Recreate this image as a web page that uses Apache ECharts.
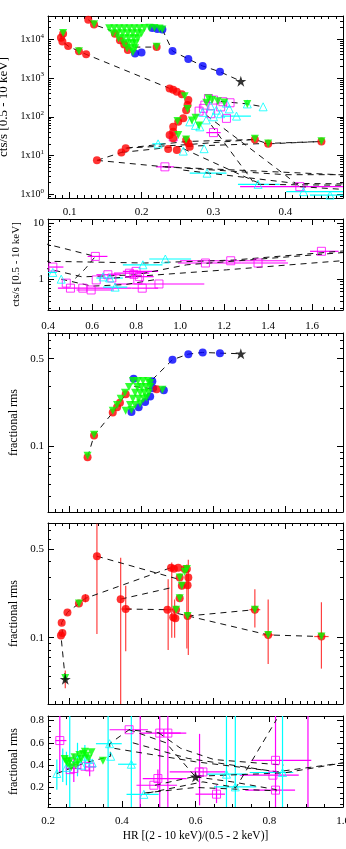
<!DOCTYPE html>
<html><head><meta charset="utf-8">
<script src="https://cdn.jsdelivr.net/npm/echarts@6/dist/echarts.min.js"></script>
<style>html,body{margin:0;padding:0;background:#fff}#c{width:346px;height:849px}</style>
</head><body><div id="c"></div>
<script>
// ---------------- tick values ----------------
const p1XTicks = [0.1, 0.2, 0.3, 0.4];
const p1YTicks = [1, 10, 100, 1000, 10000];
const p2XTicks = [0.4, 0.6, 0.8, 1.0, 1.2, 1.4, 1.6];
const p2YTicks = [1, 10];
const rmsLogTicks = [0.1, 0.5];
const p5XTicks = [0.2, 0.4, 0.6, 0.8, 1.0];
const p5YTicks = [0.2, 0.4, 0.6, 0.8];

// ---------------- panel 1 : HR vs count rate (bright) ----------------
const p1Red = [[0.126,32000],[0.134,24000],[0.091,14000],[0.088,11000],[0.090,8800],[0.098,6700],[0.113,4900],[0.123,4100],
 [0.163,14000],[0.170,9500],[0.176,7400],[0.181,5300],[0.221,6300],
 [0.239,540],[0.244,500],[0.249,440],[0.256,380],[0.265,270],[0.264,200],[0.262,148],[0.258,91],[0.251,74],[0.244,55],[0.244,41],[0.239,34],[0.244,28],[0.262,25],[0.265,20.6],[0.267,16.8],[0.249,13.9],[0.237,14.7],
 [0.3575,26],[0.376,20],[0.450,23],[0.138,7.5],[0.172,12],[0.178,15.5]];
const p1Green = [[0.134,24500],[0.091,14500],[0.113,4900],
 [0.155,19300],[0.162,19300],[0.169,19300],[0.176,19300],[0.183,19300],[0.190,19300],[0.197,19300],[0.204,19600],[0.211,19800],[0.218,19600],[0.225,19000],[0.229,17800],
 [0.160,14400],[0.167,14400],[0.174,14400],[0.181,14400],[0.188,14400],[0.195,14400],[0.200,14400],
 [0.168,10700],[0.175,10700],[0.182,10700],[0.189,10700],[0.195,10700],
 [0.175,7900],[0.182,7900],[0.188,7900],[0.192,7900],
 [0.180,5900],[0.186,5900],[0.191,5900],[0.188,4650],
 [0.221,6400],
 [0.26,340],[0.264,160],[0.25,78],[0.251,34],[0.262,26],
 [0.3575,27],[0.376,20.5],[0.45,23.5],
 [0.293,300],[0.298,270],[0.306,250],[0.315,235],[0.347,215],[0.29,230],[0.275,95],[0.27,80],[0.28,60]];
const p1Blue = [[0.229,17800],[0.243,5000],[0.265,3100],[0.285,2050],[0.309,1450],[0.191,4300],[0.2,4600],[0.215,19500],[0.222,18500]];
const p1Star = [[0.338,830]];
const p1Mag = [[0.293,297],[0.300,270],[0.313,245],[0.286,165],[0.288,200],[0.318,91],[0.300,39],[0.244,30],[0.2325,5.1],[0.42,1.57],[0.28,140],[0.31,180],[0.323,230],[0.296,120]];
const p1Cyan = [[0.369,181],[0.347,215],[0.332,104],[0.318,225],[0.267,74],[0.223,20],[0.287,15],[0.258,13],[0.291,3.5],[0.362,1.8],[0.425,1.17],[0.462,0.95],
 [0.29,83],[0.304,148],[0.281,55],[0.31,120],[0.275,60],[0.3,100],[0.285,130],[0.296,190],[0.322,160]];
// error bars: [x, y, xlo, xhi, ylo, yhi]
const p1MagErr = [[0.42,1.57,0.337,0.49,1.57,1.57],[0.2325,5.1,0.22,0.245,5.1,5.1],[0.3,39,0.29,0.31,39,39]];
const p1CyanErr = [[0.291,3.5,0.267,0.318,3.5,3.5],[0.362,1.8,0.334,0.392,1.8,1.8],[0.425,1.17,0.401,0.49,1.17,1.17],[0.462,0.95,0.434,0.49,0.95,0.95],[0.332,104,0.31,0.352,104,104],[0.223,20,0.215,0.232,20,20]];
const p1Tracks = [
 [[0.126,32000],[0.134,24000],[0.158,16600]],
 [[0.091,14000],[0.088,11000],[0.090,8800],[0.098,6700],[0.113,4900],[0.123,4100],[0.239,540]],
 [[0.229,17800],[0.243,5000],[0.265,3100],[0.285,2050],[0.309,1450],[0.338,830]],
 [[0.19,6300],[0.221,6300]],
 [[0.31,250],[0.347,215],[0.369,181]],
 [[0.138,7.5],[0.172,12],[0.178,15.5],[0.262,23],[0.3575,26],[0.376,20],[0.45,23]],
 [[0.178,15.5],[0.262,19],[0.3575,26]],
 [[0.172,12],[0.25,17],[0.45,23]],
 [[0.138,7.5],[0.2325,5.1],[0.49,3.1]],
 [[0.2325,5.1],[0.4,3.2],[0.49,3.2]],
 [[0.258,4.2],[0.415,1.9],[0.49,1.85]],
 [[0.29,110],[0.40,3.1],[0.42,1.57]],
 [[0.297,61],[0.355,2.1]],
 [[0.258,15],[0.364,1.9]],
 [[0.362,1.8],[0.49,1.7]],
 [[0.42,1.57],[0.49,1.3]]
];

// ---------------- panel 2 : faint states ----------------
const p2Mag = [[0.615,2.56],[1.642,3.16],[1.23,2.14],[1.354,1.95],[1.115,1.95],[0.422,1.65],[0.672,1.2],[0.77,1.28],[0.80,1.38],[0.816,1.11],[0.808,0.97],[0.619,0.97],[0.904,0.82],[0.502,0.69],[0.596,0.64],[0.558,0.69],[0.828,0.69],[0.483,0.85],[0.69,1.05],[0.79,1.22]];
const p2Cyan = [[0.422,1.32],[0.46,1.0],[0.831,1.81],[0.933,2.3],[0.705,0.72],[0.68,1.05],[0.65,1.1]];
const p2MagErr = [[0.615,2.56,0.58,0.67,2.56,2.56],[1.642,3.16,1.59,1.72,3.16,3.16],[1.23,2.14,1.0,1.48,2.14,2.14],[1.354,1.95,1.28,1.49,1.95,1.95],[1.115,1.95,0.99,1.28,1.95,1.95],[0.904,0.82,0.7,1.11,0.82,0.82],[0.502,0.69,0.445,0.78,0.69,0.69],[0.596,0.64,0.53,0.70,0.64,0.64],[0.828,0.69,0.78,0.9,0.69,0.69],[0.77,1.28,0.7,0.86,1.28,1.28],[0.80,1.38,0.74,0.9,1.38,1.38],[0.672,1.2,0.62,0.73,1.2,1.2],[0.816,1.11,0.75,0.88,1.11,1.11],[0.422,1.65,0.39,0.47,1.65,1.65]];
const p2CyanErr = [[0.831,1.81,0.74,0.92,1.81,1.81],[0.933,2.3,0.86,1.05,2.3,2.3],[0.705,0.72,0.65,0.76,0.72,0.72],[0.422,1.32,0.40,0.44,1.32,1.32],[0.68,1.05,0.62,0.74,1.05,1.05]];
const p2Tracks = [
 [[0.38,4.4],[0.615,2.56],[0.57,1.55],[0.52,1.0]],
 [[0.38,2.1],[0.84,1.95],[1.24,2.2],[1.74,3.2]],
 [[0.38,1.6],[0.555,1.1],[0.8,1.2],[1.03,1.81],[1.74,3.0]],
 [[0.7,1.05],[1.21,1.47],[1.74,2.15]],
 [[0.46,1.0],[0.6,0.75],[0.75,0.8],[0.9,1.0]]
];

// ---------------- panel 3 : rms (bright) ----------------
const p3Red = [[0.125,0.082],[0.134,0.122],[0.160,0.186],[0.166,0.205],[0.170,0.223],[0.178,0.26],[0.221,0.285]];
const p3Green = [[0.125,0.084],[0.134,0.124],
 [0.160,0.192],[0.166,0.214],[0.171,0.239],[0.177,0.267],[0.1825,0.297],[0.188,0.331],
 [0.195,0.331],[0.202,0.331],[0.209,0.331],[0.212,0.320],
 [0.194,0.297],[0.200,0.297],[0.206,0.297],[0.212,0.297],
 [0.191,0.267],[0.198,0.267],[0.204,0.267],[0.210,0.267],
 [0.188,0.239],[0.196,0.239],[0.203,0.239],[0.207,0.245],
 [0.184,0.214],[0.191,0.214],[0.198,0.220],
 [0.178,0.192],[0.186,0.195],[0.229,0.283]];
const p3Blue = [[0.243,0.49],[0.265,0.543],[0.285,0.56],[0.309,0.553],[0.231,0.28],[0.186,0.188],[0.196,0.205],[0.205,0.226],[0.212,0.25],[0.216,0.29],[0.215,0.33],[0.189,0.345]];
const p3Star = [[0.338,0.547]];
const p3Tracks = [
 [[0.125,0.082],[0.134,0.122],[0.16,0.186],[0.178,0.26]],
 [[0.215,0.34],[0.243,0.49],[0.265,0.543],[0.285,0.56],[0.309,0.553],[0.338,0.547]],
 [[0.19,0.3],[0.221,0.285]]
];

// ---------------- panel 4 : rms (intermediate) ----------------
const p4Red = [[0.088,0.104],[0.090,0.109],[0.089,0.131],[0.097,0.158],[0.113,0.186],[0.122,0.204],[0.138,0.438],[0.171,0.201],[0.178,0.168],[0.236,0.166],
 [0.241,0.356],[0.245,0.349],[0.251,0.356],[0.26,0.347],[0.253,0.297],[0.256,0.256],[0.253,0.204],[0.264,0.259],[0.265,0.297],[0.263,0.347],
 [0.248,0.166],[0.244,0.145],[0.247,0.142],[0.264,0.148],[0.3575,0.166],[0.376,0.105],[0.450,0.102]];
const p4Green = [[0.113,0.186],[0.253,0.297],[0.256,0.256],[0.253,0.204],[0.263,0.347],[0.26,0.33],[0.248,0.166],[0.264,0.148],[0.3575,0.166],[0.376,0.105],[0.450,0.102],[0.094,0.048]];
const p4Star = [[0.094,0.047]];
const p4RedErr = [[0.138,0.438,0.138,0.138,0.107,0.79],[0.171,0.201,0.171,0.171,0.02,0.426],[0.178,0.168,0.172,0.186,0.078,0.256],
 [0.237,0.166,0.23,0.244,0.08,0.288],[0.242,0.356,0.242,0.242,0.1,0.39],[0.246,0.145,0.246,0.246,0.1,0.2],[0.263,0.347,0.263,0.263,0.082,0.376],
 [0.265,0.297,0.265,0.265,0.073,0.41],[0.3575,0.166,0.35,0.365,0.12,0.24],[0.376,0.105,0.368,0.384,0.062,0.2],[0.45,0.102,0.44,0.46,0.057,0.19],
 [0.094,0.047,0.094,0.094,0.04,0.055],[0.122,0.204,0.122,0.122,0.19,0.22]];
const p4Tracks = [
 [[0.094,0.047],[0.088,0.104],[0.090,0.109],[0.089,0.131],[0.097,0.158],[0.113,0.186],[0.122,0.204],[0.241,0.356]],
 [[0.138,0.438],[0.25,0.29]],
 [[0.171,0.201],[0.245,0.25]],
 [[0.178,0.168],[0.236,0.166]],
 [[0.264,0.148],[0.3575,0.166]],
 [[0.25,0.155],[0.376,0.105],[0.45,0.102]]
];

// ---------------- panel 5 : rms (faint) ----------------
const p5Mag = [[0.232,0.62],[0.42,0.717],[0.503,0.687],[0.525,0.687],[0.61,0.339],[0.62,0.339],[0.498,0.28],[0.487,0.22],[0.657,0.14],[0.817,0.443],[0.81,0.31],[0.817,0.176],[0.313,0.384],[0.27,0.37],[0.26,0.36],[0.3,0.39]];
const p5Cyan = [[0.224,0.325],[0.367,0.592],[0.37,0.479],[0.426,0.408],[0.46,0.138],[0.684,0.319],[0.708,0.205],[0.836,0.334],[0.26,0.43],[0.28,0.46],[0.3,0.48],[0.25,0.38],[0.29,0.4],[0.31,0.45],[0.32,0.42]];
const p5Green = [[0.245,0.455],[0.254,0.41],[0.263,0.38],[0.272,0.47],[0.281,0.425],[0.29,0.455],[0.295,0.5],[0.3,0.52],[0.304,0.485],[0.318,0.515],[0.31,0.46],[0.275,0.4],[0.26,0.44],[0.285,0.49],[0.349,0.44],[0.25,0.43]];
const p5Star = [[0.6,0.295]];
const p5MagErr = [[0.232,0.62,0.22,0.25,0.33,0.9],[0.42,0.717,0.367,0.471,0.717,0.717],[0.45,0.5,0.45,0.45,-0.1,1.0],[0.503,0.687,0.45,0.575,-0.1,1.0],[0.525,0.687,0.5,0.56,-0.1,1.0],
 [0.611,0.339,0.53,0.68,0.04,0.68],[0.498,0.28,0.457,0.576,0.2,0.36],[0.487,0.22,0.44,0.55,0.22,0.22],[0.657,0.14,0.6,0.68,0.06,0.22],[0.817,0.443,0.752,0.914,-0.1,1.0],
 [0.81,0.31,0.72,0.88,0.31,0.31],[0.817,0.176,0.735,0.87,0.176,0.176],[0.905,0.4,0.905,0.905,-0.1,1.0],[0.313,0.384,0.3,0.33,0.3,0.45],[0.27,0.37,0.25,0.29,0.25,0.5]];
const p5CyanErr = [[0.259,0.4,0.259,0.259,-0.1,1.0],[0.363,0.592,0.33,0.4,-0.1,1.0],[0.426,0.408,0.39,0.44,-0.1,1.0],[0.46,0.138,0.413,0.5,0.138,0.138],
 [0.684,0.319,0.63,0.738,-0.1,1.0],[0.708,0.205,0.65,0.765,-0.1,1.0],[0.836,0.334,0.747,0.865,-0.1,1.0],[0.224,0.325,0.224,0.224,0.18,0.45],
 [0.28,0.46,0.28,0.28,0.3,0.6],[0.3,0.48,0.3,0.3,0.35,0.58],[0.25,0.38,0.25,0.25,0.22,0.52],[0.24,0.4,0.24,0.24,0.25,0.55]];
const p5Tracks = [
 [[0.224,0.325],[0.3,0.42],[0.37,0.48],[0.367,0.592],[0.42,0.717],[0.503,0.687]],
 [[0.42,0.717],[0.52,0.6],[0.6,0.295]],
 [[0.43,0.6],[0.58,0.46],[0.82,0.34],[1.0,0.42]],
 [[0.38,0.55],[0.6,0.43],[0.8,0.35]],
 [[0.6,0.295],[0.7,0.25],[0.82,0.18]],
 [[0.47,0.15],[0.62,0.25],[0.71,0.2],[0.82,0.81]],
 [[0.46,0.15],[0.6,0.2],[0.82,0.17]],
 [[0.49,0.22],[0.6,0.3],[0.84,0.33],[1.0,0.42]],
 [[0.5,0.69],[0.56,0.55],[0.65,0.45],[0.84,0.4]]
];

// ---------------- chart construction ----------------
const SERIF = "'Liberation Serif','DejaVu Serif',serif";
const STAR = 'path://M50,0 L61.8,35.1 98.8,35.1 68.9,56.8 80.3,91.9 50,70.2 19.7,91.9 31.1,56.8 1.2,35.1 38.2,35.1 Z';
const xAxes = [], yAxes = [], series = [];
const grids = [];

function linMinors(lo, hi, step, majors) {
  const out = [];
  const start = Math.ceil(lo / step - 1e-9);
  for (let k = start; k * step <= hi + 1e-9; k++) {
    const v = +(k * step).toFixed(6);
    if (!majors.some(m => Math.abs(m - v) < 1e-9)) out.push(v);
  }
  return out;
}
function logMinors(lo, hi, majors) {
  const out = [];
  for (let e = Math.floor(Math.log10(lo)); e <= Math.ceil(Math.log10(hi)); e++) {
    for (let k = 1; k <= 9; k++) {
      const v = +(k * Math.pow(10, e)).toPrecision(6);
      if (v >= lo && v <= hi && !majors.some(m => Math.abs(m - v) / m < 1e-9)) out.push(v);
    }
  }
  return out;
}

function addPanel(c) {
  const gi = grids.length;
  grids.push({left: c.box[0], top: c.box[1], width: c.box[2], height: c.box[3], outerBoundsMode: 'none'});
  const xi = xAxes.length, yi = yAxes.length;
  const line = {show: true, onZero: false, lineStyle: {color: '#000', width: 1}};
  const noLine = {show: false, onZero: false};
  const bx = {gridIndex: gi, type: 'value', min: c.x[0], max: c.x[1], splitLine: {show: false}, silent: true};
  const lbl = {fontFamily: SERIF, fontSize: 11, color: '#000'};
  xAxes.push(Object.assign({}, bx, {position: 'bottom', axisLine: line,
    axisTick: {inside: true, length: 6, customValues: c.xMajor, lineStyle: {color: '#000'}},
    axisLabel: Object.assign({show: !!c.xFmt, customValues: c.xMajor, formatter: c.xFmt, margin: c.xMargin || 9}, lbl),
    name: c.xName || '', nameLocation: 'middle', nameGap: c.xNameGap || 0,
    nameTextStyle: {fontFamily: SERIF, fontSize: 11.5, color: '#000'}}));
  xAxes.push(Object.assign({}, bx, {position: 'top', axisLine: line,
    axisTick: {inside: true, length: 6, customValues: c.xMajor, lineStyle: {color: '#000'}}, axisLabel: {show: false}}));
  xAxes.push(Object.assign({}, bx, {position: 'bottom', axisLine: noLine,
    axisTick: {inside: true, length: 3, customValues: c.xMinor, lineStyle: {color: '#000'}}, axisLabel: {show: false}}));
  xAxes.push(Object.assign({}, bx, {position: 'top', axisLine: noLine,
    axisTick: {inside: true, length: 3, customValues: c.xMinor, lineStyle: {color: '#000'}}, axisLabel: {show: false}}));

  const by = {gridIndex: gi, type: c.ylog ? 'log' : 'value', logBase: 10, min: c.y[0], max: c.y[1], splitLine: {show: false}, silent: true};
  yAxes.push(Object.assign({}, by, {position: 'left', axisLine: line,
    axisTick: {inside: true, length: 6, customValues: c.yMajor, lineStyle: {color: '#000'}},
    axisLabel: Object.assign({show: true, customValues: c.yMajor, formatter: c.yFmt, margin: 4, rich: c.yRich}, lbl),
    name: c.yName, nameLocation: 'middle', nameGap: c.yNameGap, nameRotate: 90,
    nameTextStyle: {fontFamily: SERIF, fontSize: c.yNameSize, color: '#000'}}));
  yAxes.push(Object.assign({}, by, {position: 'right', axisLine: line,
    axisTick: {inside: true, length: 6, customValues: c.yMajor, lineStyle: {color: '#000'}}, axisLabel: {show: false}}));
  yAxes.push(Object.assign({}, by, {position: 'left', axisLine: noLine,
    axisTick: {inside: true, length: 3, customValues: c.yMinor, lineStyle: {color: '#000'}}, axisLabel: {show: false}}));
  yAxes.push(Object.assign({}, by, {position: 'right', axisLine: noLine,
    axisTick: {inside: true, length: 3, customValues: c.yMinor, lineStyle: {color: '#000'}}, axisLabel: {show: false}}));
  return {xi, yi};
}

const STYLES = {
  red:   {symbol: 'circle', symbolSize: 8, itemStyle: {color: '#ff0000'}},
  blue:  {symbol: 'circle', symbolSize: 8, itemStyle: {color: '#0000ff'}},
  green: {symbol: 'triangle', symbolSize: 8, symbolRotate: 180, itemStyle: {color: '#00ff00'}},
  mag:   {symbol: 'rect', symbolSize: 8, itemStyle: {color: 'rgba(0,0,0,0)', borderColor: '#ff00ff', borderWidth: 1}},
  cyan:  {symbol: 'triangle', symbolSize: 8, itemStyle: {color: 'rgba(0,0,0,0)', borderColor: '#00ffff', borderWidth: 1}},
  star:  {symbol: STAR, symbolSize: 11, itemStyle: {color: '#000'}}
};
function scat(data, ax, kind) {
  series.push(Object.assign({type: 'scatter', xAxisIndex: ax.xi, yAxisIndex: ax.yi, data: data, silent: true, clip: true, z: 3}, STYLES[kind]));
}
function tracks(list, ax) {
  list.forEach(d => series.push({type: 'line', xAxisIndex: ax.xi, yAxisIndex: ax.yi, data: d, symbol: 'none', silent: true, clip: true, z: 2,
    lineStyle: {color: '#111', width: 1, type: [6, 5]}}));
}
function errs(data, ax, color) {
  series.push({type: 'custom', xAxisIndex: ax.xi, yAxisIndex: ax.yi, data: data, clip: true, silent: true, z: 2,
    renderItem: function (params, api) {
      const y = api.value(1), x = api.value(0);
      const xl = api.value(2), xh = api.value(3), yl = api.value(4), yh = api.value(5);
      const ch = [];
      if (xl !== xh) {
        const a = api.coord([xl, y]), b = api.coord([xh, y]);
        ch.push({type: 'line', shape: {x1: a[0], y1: a[1], x2: b[0], y2: b[1]}, style: {stroke: color, lineWidth: 1.2}});
      }
      if (yl !== yh) {
        const a = api.coord([x, yl]), b = api.coord([x, yh]);
        ch.push({type: 'line', shape: {x1: a[0], y1: a[1], x2: b[0], y2: b[1]}, style: {stroke: color, lineWidth: 1.2}});
      }
      return {type: 'group', children: ch};
    }});
}

const fmt1 = v => (+v).toFixed(1);
const supFmt = v => '{n|1x10}{s|' + Math.round(Math.log10(v)) + '}';
const richSup = {n: {fontFamily: SERIF, fontSize: 10, lineHeight: 14, color: '#000'}, s: {fontFamily: SERIF, fontSize: 7, lineHeight: 8, verticalAlign: 'top', color: '#000'}};

// panel 1
const a1 = addPanel({box: [48, 16, 295, 182], x: [0.07, 0.48], xMajor: p1XTicks, xMinor: linMinors(0.07, 0.48, 0.01, p1XTicks), xFmt: fmt1, xMargin: 9,
  ylog: true, y: [0.8, 40000], yMajor: p1YTicks, yMinor: logMinors(0.8, 40000, p1YTicks), yFmt: supFmt, yRich: richSup,
  yName: 'cts/s [0.5 - 10 keV]', yNameGap: 30, yNameSize: 13});
// panel 2
const a2 = addPanel({box: [48, 219, 295, 91], x: [0.4, 1.74], xMajor: p2XTicks, xMinor: linMinors(0.4, 1.74, 0.05, p2XTicks), xFmt: fmt1, xMargin: 11,
  ylog: true, y: [0.28, 12], yMajor: p2YTicks, yMinor: logMinors(0.28, 12, p2YTicks), yFmt: v => String(v),
  yName: 'cts/s [0.5 - 10 keV]', yNameGap: 20, yNameSize: 11});
// panel 3
const a3 = addPanel({box: [48, 333, 295, 179], x: [0.07, 0.48], xMajor: p1XTicks, xMinor: linMinors(0.07, 0.48, 0.01, p1XTicks),
  ylog: true, y: [0.03, 0.8], yMajor: rmsLogTicks, yMinor: logMinors(0.03, 0.8, rmsLogTicks), yFmt: v => String(v),
  yName: 'fractional rms', yNameGap: 25, yNameSize: 12});
// panel 4
const a4 = addPanel({box: [48, 523, 295, 181], x: [0.07, 0.48], xMajor: p1XTicks, xMinor: linMinors(0.07, 0.48, 0.01, p1XTicks),
  ylog: true, y: [0.03, 0.8], yMajor: rmsLogTicks, yMinor: logMinors(0.03, 0.8, rmsLogTicks), yFmt: v => String(v),
  yName: 'fractional rms', yNameGap: 25, yNameSize: 12});
// panel 5
const a5 = addPanel({box: [48, 716, 295, 91], x: [0.2, 1.0], xMajor: p5XTicks, xMinor: linMinors(0.2, 1.0, 0.05, p5XTicks), xFmt: fmt1, xMargin: 9,
  xName: 'HR [(2 - 10 keV)/(0.5 - 2 keV)]', xNameGap: 23,
  ylog: false, y: [0.025, 0.84], yMajor: p5YTicks, yMinor: linMinors(0.025, 0.84, 0.05, p5YTicks), yFmt: fmt1,
  yName: 'fractional rms', yNameGap: 25, yNameSize: 12});

// panel 1 series
tracks(p1Tracks, a1);
errs(p1MagErr, a1, '#ff00ff'); errs(p1CyanErr, a1, '#00ffff');
scat(p1Mag, a1, 'mag'); scat(p1Cyan, a1, 'cyan'); scat(p1Blue, a1, 'blue'); scat(p1Red, a1, 'red'); scat(p1Green, a1, 'green'); scat(p1Star, a1, 'star');
// panel 2
tracks(p2Tracks, a2);
errs(p2MagErr, a2, '#ff00ff'); errs(p2CyanErr, a2, '#00ffff');
scat(p2Mag, a2, 'mag'); scat(p2Cyan, a2, 'cyan');
// panel 3
tracks(p3Tracks, a3);
scat(p3Blue, a3, 'blue'); scat(p3Red, a3, 'red'); scat(p3Green, a3, 'green'); scat(p3Star, a3, 'star');
// panel 4
tracks(p4Tracks, a4);
errs(p4RedErr, a4, '#ff4040');
scat(p4Red, a4, 'red'); scat(p4Green, a4, 'green'); scat(p4Star, a4, 'star');
// panel 5
tracks(p5Tracks, a5);
errs(p5MagErr, a5, '#ff00ff'); errs(p5CyanErr, a5, '#00ffff');
scat(p5Mag, a5, 'mag'); scat(p5Cyan, a5, 'cyan'); scat(p5Green, a5, 'green'); scat(p5Star, a5, 'star');

const chart = echarts.init(document.getElementById('c'), null, {renderer: 'canvas'});
chart.setOption({animation: false, backgroundColor: '#fff', grid: grids, xAxis: xAxes, yAxis: yAxes, series: series});
</script></body></html>
